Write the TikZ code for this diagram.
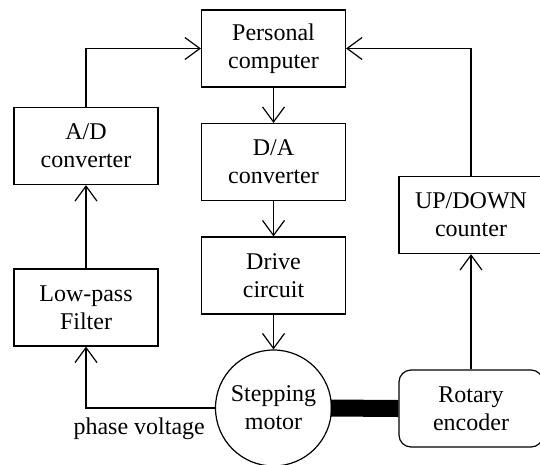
\documentclass[tikz,border=0pt]{standalone}
\usepackage{fontspec}
\setmainfont{Liberation Serif}
\usetikzlibrary{arrows.meta}
\begin{document}
\begin{tikzpicture}[x=1pt,y=-1pt,
  every node/.style={font=\fontsize{24}{28}\selectfont},
  blk/.style={draw,line width=1.2pt,minimum width=144pt,minimum height=77pt,inner sep=0pt,align=center},
  rblk/.style={blk,rounded corners=12pt},
  circ/.style={draw,line width=1.2pt,circle,minimum size=116pt,inner sep=0pt,align=center},
  arr/.style={line width=1.2pt,-{Straight Barb[length=15pt,width=22pt,line width=1.2pt]}},
  shaft/.style={line width=17pt}]
\clip (0,0) rectangle (540,464);
\fill[white] (0,0) rectangle (540,464);
\node[blk] (pc) at (273.5,48.5) {Personal\\computer};
\node[blk] (ad) at (86,146) {A/D\\converter};
\node[blk] (da) at (273.5,162) {D/A\\converter};
\node[blk] (drive) at (273.5,275.5) {Drive\\circuit};
\node[blk] (lp) at (86,307.5) {Low-pass\\Filter};
\node[blk] (ud) at (471,215) {UP/DOWN\\counter};
\node[rblk] (enc) at (471,408.5) {Rotary\\encoder};
\node[circ] (motor) at (273.5,408) {Stepping\\motor};
\draw[shaft] ([xshift=-1.5pt]motor.east) -- (enc.west);
\draw[arr] (pc) -- (da);
\draw[arr] (da) -- (drive);
\draw[arr] (drive) -- (motor);
\draw[arr] (lp) -- (ad);
\draw[arr] (ad.north) |- (pc.west);
\draw[arr] (ud.north) |- (pc.east);
\draw[arr] (enc) -- (ud);
\draw[arr] (motor.west) -| (lp.south);
\node[anchor=base east,inner sep=0pt] (pv) at (205,434) {phase voltage};
\end{tikzpicture}
\end{document}
